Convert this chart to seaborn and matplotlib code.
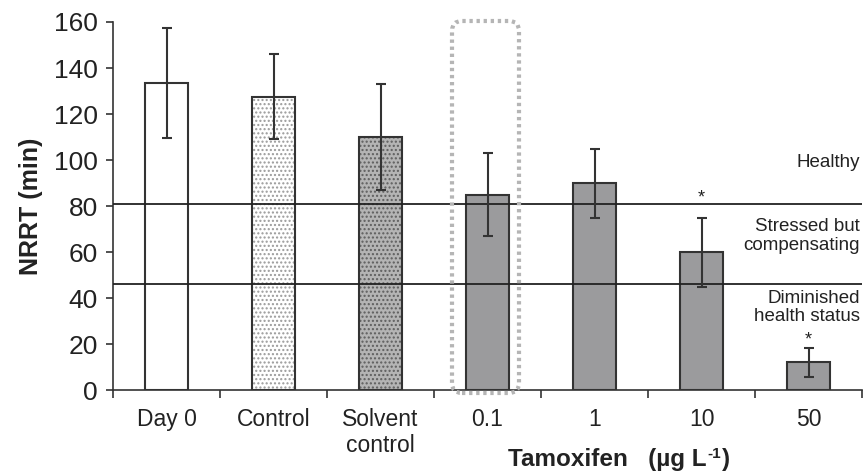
import numpy as np
import pandas as pd
import matplotlib
matplotlib.use("Agg")
import matplotlib.pyplot as plt
from matplotlib.patches import FancyBboxPatch, Rectangle
from matplotlib.transforms import IdentityTransform
import seaborn as sns

categories = ["Day 0", "Control", "Solvent\ncontrol", "0.1", "1", "10", "50"]
nrrt = [133.5, 127.5, 110, 85, 90, 60, 12]
err = [24, 18.5, 23, 18, 15, 15, 6.5]
thresholds = [81, 46]
zone_labels = ["Healthy", "Stressed but\ncompensating", "Diminished\nhealth status"]
zone_label_y = [99, 67, 36]
sig_marks = {5: 83.5, 6: 22}

sns.set_theme(style="white")
plt.rcParams['font.family'] = ['Liberation Sans', 'DejaVu Sans']

df = pd.DataFrame({"cat": categories, "nrrt": nrrt})

fig = plt.figure(figsize=(8.66, 4.74), dpi=100)
ax = fig.add_axes([0.1305, 0.177, 0.8649, 0.7766])

face = ["white", "white", "#b4b4b4", "#9b9b9d", "#9b9b9d", "#9b9b9d", "#9b9b9d"]
sns.barplot(data=df, x="cat", y="nrrt", hue="cat", palette=face, legend=False,
            width=0.4, ax=ax, edgecolor="#333333", linewidth=1.5, zorder=3)

hatch_col = {1: ("#9a9a9a", "...."), 2: ("#5e5e5e", "....")}
for i, p in enumerate(list(ax.patches)):
    if i in hatch_col:
        c, h = hatch_col[i]
        ov = Rectangle(p.get_xy(), p.get_width(), p.get_height(), facecolor="none",
                       edgecolor=c, hatch=h, linewidth=0, zorder=3.5)
        ax.add_patch(ov)
        ov2 = Rectangle(p.get_xy(), p.get_width(), p.get_height(), facecolor=face[i],
                        edgecolor="none", linewidth=0, zorder=3.2)
        ax.add_patch(ov2)
        p.set_zorder(3.6)
        p.set_facecolor("none")

x = np.arange(len(categories))
ax.errorbar(x, nrrt, yerr=err, fmt="none", ecolor="#333333", elinewidth=1.5,
            capsize=3.6, capthick=1.5, zorder=5)

for t in thresholds:
    ax.axhline(t, color="#222222", linewidth=1.3, zorder=4)

for lab, yy in zip(zone_labels, zone_label_y):
    ax.text(6.48, yy, lab, ha="right", va="center", fontsize=13.5, color="#222222",
            linespacing=1.1)

for k, yy in sig_marks.items():
    ax.text(k, yy, "*", ha="center", va="center", fontsize=13, color="#222222")

box = FancyBboxPatch((452, 81), 67, 372, boxstyle="round,pad=0,rounding_size=10",
                     transform=IdentityTransform(), facecolor="none", edgecolor="#b5b5b5",
                     linewidth=3, linestyle=(0, (0.8, 0.9)), zorder=6)
fig.add_artist(box)

ax.set_xlim(-0.5, 6.5)
ax.set_ylim(0, 160)
ax.set_yticks(np.arange(0, 161, 20))
ax.tick_params(axis="y", labelsize=19, length=5, width=1.2, color="#333333",
               left=True, direction="out", pad=6, labelcolor="#222222")
ax.set_xticks(x)
ax.set_xticklabels(categories)
ax.tick_params(axis="x", which="major", length=0, labelsize=16.5, pad=13,
               labelcolor="#222222")
ax.set_xticks(np.arange(-0.5, 6.6, 1), minor=True)
ax.tick_params(axis="x", which="minor", length=6, width=1.2, color="#333333", bottom=True,
               direction="out")
for lab in ax.get_xticklabels():
    lab.set_linespacing(1.15)
ax.set_xlabel("")
ax.set_ylabel("NRRT (min)", fontsize=18, fontweight="bold", color="#222222", labelpad=8)

for s in ["top", "right"]:
    ax.spines[s].set_visible(False)
for s in ["left", "bottom"]:
    ax.spines[s].set_color("#333333")
    ax.spines[s].set_linewidth(1.2)

# x-axis title composed of parts so the superscript stays small and bold
fig.canvas.draw()
r = fig.canvas.get_renderer()
base_x, base_y = 508, 8
t1 = fig.text(base_x, base_y, "Tamoxifen   (µg L", transform=IdentityTransform(),
              ha="left", va="baseline", fontsize=17.5, fontweight="bold", color="#222222")
w1 = t1.get_window_extent(r).width
t2 = fig.text(base_x + w1 + 1, base_y + 8, "-1", transform=IdentityTransform(),
              ha="left", va="baseline", fontsize=11, fontweight="bold", color="#222222")
w2 = t2.get_window_extent(r).width
fig.text(base_x + w1 + w2 + 2, base_y, ")", transform=IdentityTransform(),
         ha="left", va="baseline", fontsize=17.5, fontweight="bold", color="#222222")

fig.savefig("out.png", dpi=100)
